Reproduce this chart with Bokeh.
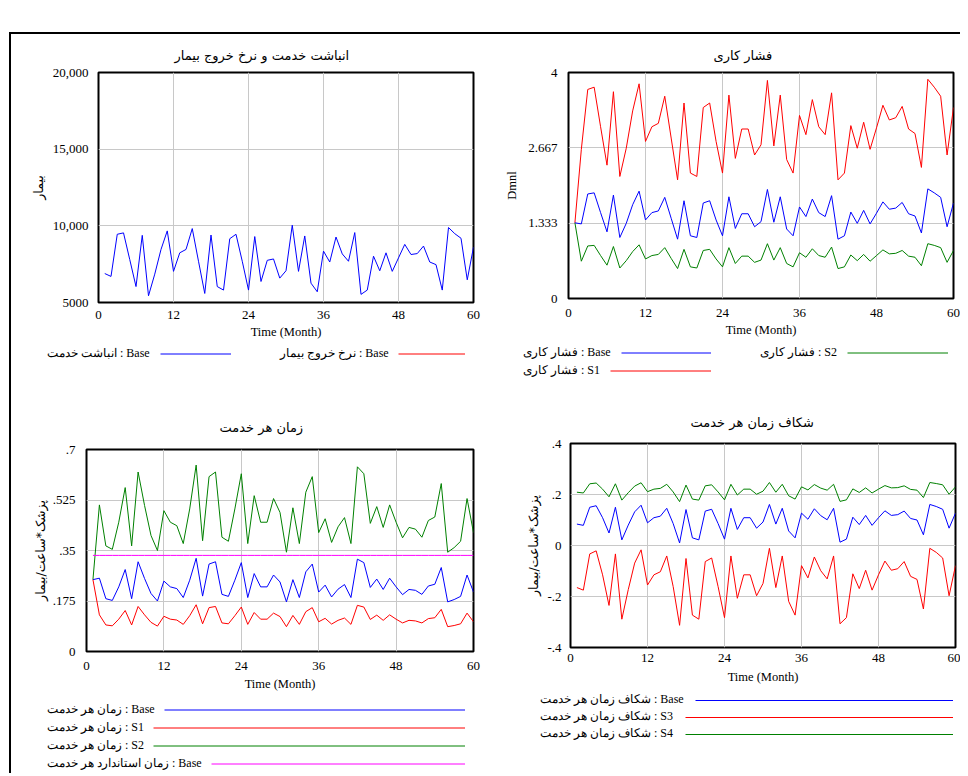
from bokeh.plotting import figure
from bokeh.models import Range1d, FixedTicker, Legend, LegendItem
from bokeh.layouts import column, row
from bokeh.embed import file_html
from bokeh.resources import INLINE

# ---------------- data ----------------
months = list(range(1, 61))
x_ticks = [0, 12, 24, 36, 48, 60]

# panel 1 : انباشت خدمت (Base)
service_backlog_base = [6890, 6700, 9450, 9540, 7800, 6040, 9380, 5440, 6850, 8460,
                        9670, 7030, 8240, 8460, 9820, 7690, 5590, 9400, 6040, 5810,
                        9160, 9450, 7690, 5810, 9300, 6370, 7750, 7840, 6590, 7070,
                        10040, 7030, 9340, 6260, 5700, 8350, 7640, 9270, 8170, 7690,
                        9560, 5530, 5810, 8020, 7070, 8240, 7030, 7910, 8790, 8130,
                        8190, 8680, 7640, 7470, 5810, 9890, 9490, 9190, 6480, 8610]
# نرخ خروج بیمار : listed in the legend, no values visible inside the plotted range
exit_rate_base = [float("nan")] * 60

# panel 2 : فشار کاری
pressure_base = [1.34, 1.32, 1.85, 1.87, 1.52, 1.18, 1.83, 1.08, 1.33, 1.66,
                 1.90, 1.39, 1.52, 1.55, 1.79, 1.42, 1.05, 1.73, 1.11, 1.08,
                 1.69, 1.73, 1.39, 1.11, 1.80, 1.24, 1.50, 1.50, 1.27, 1.36,
                 1.93, 1.35, 1.80, 1.23, 1.11, 1.62, 1.45, 1.76, 1.52, 1.45,
                 1.82, 1.05, 1.11, 1.53, 1.33, 1.56, 1.32, 1.51, 1.71, 1.58,
                 1.60, 1.70, 1.50, 1.46, 1.16, 1.94, 1.87, 1.79, 1.27, 1.69]
pressure_s1 = [1.34, 2.64, 3.70, 3.74, 3.04, 2.36, 3.66, 2.16, 2.66, 3.32,
               3.80, 2.78, 3.04, 3.10, 3.58, 2.84, 2.10, 3.46, 2.22, 2.16,
               3.38, 3.46, 2.78, 2.22, 3.60, 2.48, 3.00, 3.00, 2.54, 2.72,
               3.86, 2.70, 3.60, 2.46, 2.22, 3.24, 2.90, 3.52, 3.04, 2.90,
               3.64, 2.10, 2.22, 3.06, 2.66, 3.12, 2.64, 3.02, 3.42, 3.16,
               3.20, 3.40, 3.00, 2.92, 2.32, 3.88, 3.74, 3.58, 2.54, 3.38]
pressure_s2 = [1.34, 0.66, 0.93, 0.94, 0.76, 0.59, 0.92, 0.54, 0.67, 0.83,
               0.95, 0.70, 0.76, 0.78, 0.90, 0.71, 0.53, 0.87, 0.56, 0.54,
               0.85, 0.87, 0.70, 0.56, 0.90, 0.62, 0.75, 0.75, 0.64, 0.68,
               0.97, 0.68, 0.90, 0.62, 0.56, 0.81, 0.73, 0.88, 0.76, 0.73,
               0.91, 0.53, 0.56, 0.77, 0.67, 0.78, 0.66, 0.76, 0.86, 0.79,
               0.80, 0.85, 0.75, 0.73, 0.58, 0.97, 0.94, 0.90, 0.64, 0.85]

# panel 3 : زمان هر خدمت
service_time_base = [0.249, 0.254, 0.183, 0.177, 0.224, 0.284, 0.183, 0.311, 0.253, 0.201,
                     0.175, 0.244, 0.224, 0.218, 0.187, 0.247, 0.323, 0.192, 0.303, 0.311,
                     0.198, 0.191, 0.247, 0.308, 0.187, 0.270, 0.224, 0.224, 0.265, 0.241,
                     0.172, 0.249, 0.187, 0.276, 0.303, 0.206, 0.230, 0.189, 0.216, 0.232,
                     0.187, 0.320, 0.308, 0.222, 0.251, 0.215, 0.254, 0.224, 0.197, 0.215,
                     0.212, 0.198, 0.227, 0.233, 0.291, 0.172, 0.180, 0.191, 0.265, 0.206]
service_time_s1 = [0.249, 0.127, 0.092, 0.089, 0.112, 0.142, 0.092, 0.156, 0.127, 0.101,
                   0.088, 0.122, 0.112, 0.109, 0.094, 0.124, 0.162, 0.096, 0.152, 0.156,
                   0.099, 0.096, 0.124, 0.154, 0.094, 0.135, 0.112, 0.112, 0.133, 0.121,
                   0.086, 0.125, 0.094, 0.138, 0.152, 0.103, 0.115, 0.095, 0.108, 0.116,
                   0.094, 0.160, 0.154, 0.111, 0.126, 0.108, 0.127, 0.112, 0.099, 0.108,
                   0.106, 0.099, 0.114, 0.117, 0.146, 0.086, 0.090, 0.096, 0.133, 0.103]
service_time_s2 = [0.249, 0.508, 0.366, 0.354, 0.448, 0.568, 0.366, 0.622, 0.506, 0.402,
                   0.350, 0.488, 0.448, 0.436, 0.374, 0.494, 0.646, 0.384, 0.606, 0.622,
                   0.396, 0.382, 0.494, 0.616, 0.374, 0.540, 0.448, 0.448, 0.530, 0.482,
                   0.344, 0.498, 0.374, 0.552, 0.606, 0.412, 0.460, 0.378, 0.432, 0.464,
                   0.374, 0.640, 0.616, 0.444, 0.502, 0.430, 0.508, 0.448, 0.394, 0.430,
                   0.424, 0.396, 0.454, 0.466, 0.582, 0.344, 0.360, 0.382, 0.530, 0.412]
standard_time_base = [0.333, 0.333, 0.333, 0.333, 0.333, 0.333, 0.333, 0.333, 0.333, 0.333,
                      0.333, 0.333, 0.333, 0.333, 0.333, 0.333, 0.333, 0.333, 0.333, 0.333,
                      0.333, 0.333, 0.333, 0.333, 0.333, 0.333, 0.333, 0.333, 0.333, 0.333,
                      0.333, 0.333, 0.333, 0.333, 0.333, 0.333, 0.333, 0.333, 0.333, 0.333,
                      0.333, 0.333, 0.333, 0.333, 0.333, 0.333, 0.333, 0.333, 0.333, 0.333,
                      0.333, 0.333, 0.333, 0.333, 0.333, 0.333, 0.333, 0.333, 0.333, 0.333]

# panel 4 : شکاف زمان هر خدمت
gap_base = [0.084, 0.079, 0.150, 0.156, 0.109, 0.049, 0.150, 0.022, 0.080, 0.132,
            0.158, 0.089, 0.109, 0.115, 0.146, 0.086, 0.010, 0.141, 0.030, 0.022,
            0.135, 0.142, 0.086, 0.025, 0.146, 0.063, 0.109, 0.109, 0.068, 0.092,
            0.161, 0.084, 0.146, 0.057, 0.030, 0.127, 0.103, 0.144, 0.117, 0.101,
            0.146, 0.013, 0.025, 0.111, 0.082, 0.118, 0.079, 0.109, 0.136, 0.118,
            0.121, 0.135, 0.106, 0.100, 0.042, 0.161, 0.153, 0.142, 0.068, 0.127]
gap_s3 = [-0.165, -0.175, -0.033, -0.021, -0.115, -0.235, -0.033, -0.289, -0.173, -0.069,
          -0.017, -0.155, -0.115, -0.103, -0.041, -0.161, -0.313, -0.051, -0.273, -0.289,
          -0.063, -0.049, -0.161, -0.283, -0.041, -0.207, -0.115, -0.115, -0.197, -0.149,
          -0.011, -0.165, -0.041, -0.219, -0.273, -0.079, -0.127, -0.045, -0.099, -0.131,
          -0.041, -0.307, -0.283, -0.111, -0.169, -0.097, -0.175, -0.115, -0.061, -0.097,
          -0.091, -0.063, -0.121, -0.133, -0.249, -0.011, -0.027, -0.049, -0.197, -0.079]
gap_s4 = [0.209, 0.206, 0.242, 0.245, 0.221, 0.191, 0.242, 0.178, 0.207, 0.233,
          0.246, 0.211, 0.221, 0.224, 0.240, 0.210, 0.172, 0.237, 0.182, 0.178,
          0.234, 0.238, 0.210, 0.179, 0.240, 0.198, 0.221, 0.221, 0.201, 0.213,
          0.247, 0.209, 0.240, 0.195, 0.182, 0.230, 0.218, 0.239, 0.225, 0.217,
          0.240, 0.173, 0.179, 0.222, 0.208, 0.226, 0.206, 0.221, 0.235, 0.226,
          0.227, 0.234, 0.220, 0.217, 0.188, 0.247, 0.243, 0.238, 0.201, 0.230]

# tick values and labels
y_ticks_1 = [5000, 10000, 15000, 20000]
y_labels_1 = ["5000", "10,000", "15,000", "20,000"]
y_ticks_2 = [0, 4 / 3, 8 / 3, 4]
y_labels_2 = ["0", "1.333", "2.667", "4"]
y_ticks_3 = [0, 0.175, 0.35, 0.525, 0.7]
y_labels_3 = ["0", ".175", ".35", ".525", ".7"]
y_ticks_4 = [-0.4, -0.2, 0, 0.2, 0.4]
y_labels_4 = ["-.4", "-.2", "0", ".2", ".4"]

# ---------------- styling ----------------
SERIF = "Liberation Serif"
PERSIAN = "DejaVu Sans"
GRID = "#c8c8c8"
BLUE, RED, GREEN, MAGENTA = "#0000ff", "#ff0000", "#008000", "#ff00ff"


def no_frame_align(p):
    if "frame_align" in p.properties():
        p.frame_align = False


def make_panel(width, height, borders, y_range, title, title_offset, title_standoff,
               y_label, y_label_font, y_ticks, y_labels,
               x_std, x_als, y_std, y_als):
    bl, br, bt, bb = borders
    p = figure(width=width, height=height, x_range=Range1d(0, 60), y_range=Range1d(*y_range),
               output_backend="svg", toolbar_location=None,
               min_border_left=bl, min_border_right=br, min_border_top=bt, min_border_bottom=bb,
               background_fill_color="white", border_fill_color="white")
    no_frame_align(p)
    p.title.text = title
    p.title.align = "left"
    p.title.offset = title_offset
    if "standoff" in p.title.properties():
        p.title.standoff = title_standoff
    p.title.text_font = PERSIAN
    p.title.text_font_size = "13px"
    p.title.text_font_style = "normal"
    p.title.text_color = "black"
    p.outline_line_color = "black"
    p.outline_line_width = 2
    p.outline_line_alpha = 1.0
    for ax, std, als in ((p.xaxis[0], x_std, x_als), (p.yaxis[0], y_std, y_als)):
        ax.axis_line_color = None
        ax.major_tick_line_color = None
        ax.minor_tick_line_color = None
        ax.major_tick_out = 0
        ax.major_tick_in = 0
        ax.minor_tick_out = 0
        ax.minor_tick_in = 0
        ax.major_label_standoff = std
        ax.axis_label_standoff = als
        ax.major_label_text_font = SERIF
        ax.major_label_text_font_size = "13px"
        ax.major_label_text_color = "black"
        ax.axis_label_text_font_size = "12.5px"
        ax.axis_label_text_font_style = "normal"
        ax.axis_label_text_color = "black"
    p.xaxis[0].ticker = FixedTicker(ticks=x_ticks)
    p.xaxis[0].axis_label = "Time (Month)"
    p.xaxis[0].axis_label_text_font = SERIF
    p.yaxis[0].ticker = FixedTicker(ticks=y_ticks)
    p.yaxis[0].major_label_overrides = dict(zip(y_ticks, y_labels))
    p.yaxis[0].axis_label = y_label
    p.yaxis[0].axis_label_text_font = y_label_font
    p.xgrid[0].ticker = FixedTicker(ticks=x_ticks)
    p.ygrid[0].ticker = FixedTicker(ticks=y_ticks)
    p.grid.grid_line_color = GRID
    p.grid.grid_line_width = 1
    return p


def legend_panel(width, height, entries, item_h=15):
    """A strip below a chart holding that chart's legend: label text first, then its line.
    entries: (label, colour, series, label_x, line_x, line_width, row_y)"""
    q = figure(width=width, height=height, x_range=Range1d(-3, -2), y_range=Range1d(0, 1),
               output_backend="svg", toolbar_location=None, title=None,
               x_axis_type=None, y_axis_type=None, min_border=0,
               background_fill_color="white", border_fill_color="white")
    no_frame_align(q)
    q.outline_line_color = None
    q.grid.visible = False
    common = dict(glyph_height=item_h, label_height=item_h, label_width=0,
                  label_standoff=0, padding=0, margin=0, border_line_color=None,
                  background_fill_alpha=0, label_text_font=SERIF,
                  label_text_font_size="12px", label_text_color="black")
    for text, color, series, label_x, line_x, line_w, row_y in entries:
        r = q.line(months, series, line_color=color, line_width=1)
        q.add_layout(Legend(items=[LegendItem(label=text, renderers=[r])],
                            location=(label_x, row_y), glyph_width=0, **common), "center")
        q.add_layout(Legend(items=[LegendItem(label=" ", renderers=[r])],
                            location=(line_x, row_y), glyph_width=line_w, **common), "center")
    return q


# panel 1
p1 = make_panel(479, 310, (87, 17, 38, 42), (5000, 20000),
                "انباشت خدمت و نرخ خروج بیمار", 76, 20, "بیمار", PERSIAN,
                y_ticks_1, y_labels_1, 8, 3, 10, 4)
p1.line(months, service_backlog_base, line_color=BLUE, line_width=1)
p1.line(months, exit_rate_base, line_color=RED, line_width=1)
l1 = legend_panel(479, 51, [
    ("انباشت خدمت : Base", BLUE, service_backlog_base, 36, 149, 71, 34),
    ("نرخ خروج بیمار : Base", RED, exit_rate_base, 269, 387, 67, 34)])

# panel 2
p2 = make_panel(470, 310, (78, 7, 38, 46), (0, 4),
                "فشار کاری", 145, 20, "Dmnl", SERIF,
                y_ticks_2, y_labels_2, 10, 3, 11, 6)
p2.line(months, pressure_s2, line_color=GREEN, line_width=1)
p2.line(months, pressure_s1, line_color=RED, line_width=1)
p2.line(months, pressure_base, line_color=BLUE, line_width=1)
l2 = legend_panel(470, 51, [
    ("فشار کاری : Base", BLUE, pressure_base, 33, 131, 90, 35),
    ("فشار کاری : S1", RED, pressure_s1, 33, 120, 101, 17),
    ("فشار کاری : S2", GREEN, pressure_s2, 270, 357, 101, 35)])

# panel 3
p3 = make_panel(479, 303, (75, 17, 54, 47), (0, 0.7),
                "زمان هر خدمت", 133, 29, "پزشک*ساعت/بیمار", PERSIAN,
                y_ticks_3, y_labels_3, 10, 4, 11, 2)
p3.line(months, service_time_s2, line_color=GREEN, line_width=1)
p3.line(months, standard_time_base, line_color=MAGENTA, line_width=1)
p3.line(months, service_time_base, line_color=BLUE, line_width=1)
p3.line(months, service_time_s1, line_color=RED, line_width=1)
l3 = legend_panel(479, 75, [
    ("زمان هر خدمت : Base", BLUE, service_time_base, 36, 153, 301, 56),
    ("زمان هر خدمت : S1", RED, service_time_s1, 36, 142, 312, 38),
    ("زمان هر خدمت : S2", GREEN, service_time_s2, 36, 142, 312, 20),
    ("زمان استاندارد هر خدمت : Base", MAGENTA, standard_time_base, 36, 200, 254, 2)])

# panel 4
p4 = make_panel(470, 295, (80, 5, 48, 43), (-0.4, 0.4),
                "شکاف زمان هر خدمت", 120, 27, "پزشک*ساعت/بیمار", PERSIAN,
                y_ticks_4, y_labels_4, 6, 5, 9, 3)
p4.line(months, gap_s4, line_color=GREEN, line_width=1)
p4.line(months, gap_base, line_color=BLUE, line_width=1)
p4.line(months, gap_s3, line_color=RED, line_width=1)
l4 = legend_panel(470, 83, [
    ("شکاف زمان هر خدمت : Base", BLUE, gap_base, 50, 205, 258, 66),
    ("شکاف زمان هر خدمت : S3", RED, gap_s3, 50, 195, 268, 49),
    ("شکاف زمان هر خدمت : S4", GREEN, gap_s4, 50, 195, 268, 32)], item_h=14)

layout = column(row(column(p1, l1), column(p2, l2)),
                row(column(p3, l3), column(p4, l4)),
                margin=(32, 0, 0, 9),
                styles={"border-left": "2px solid black", "border-top": "2px solid black"})

open("out.html", "w").write(file_html(layout, INLINE))
